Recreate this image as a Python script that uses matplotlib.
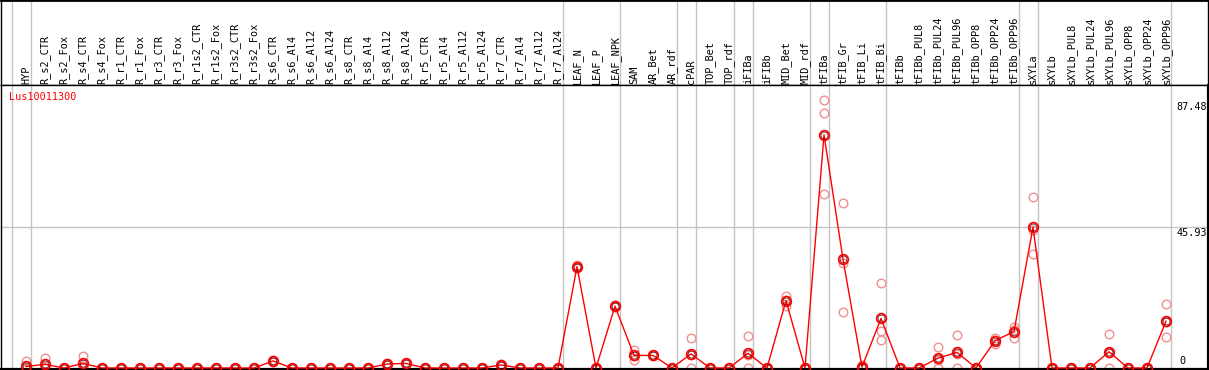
import matplotlib
matplotlib.use('Agg')
import matplotlib.pyplot as plt
import matplotlib.transforms as mtransforms
import numpy as np

categories = [
    "HYP", "R_s2_CTR", "R_s2_Fox", "R_s4_CTR", "R_s4_Fox", "R_r1_CTR", "R_r1_Fox",
    "R_r3_CTR", "R_r3_Fox", "R_r1s2_CTR", "R_r1s2_Fox", "R_r3s2_CTR", "R_r3s2_Fox",
    "R_s6_CTR", "R_s6_Al4", "R_s6_Al12", "R_s6_Al24", "R_s8_CTR", "R_s8_Al4",
    "R_s8_Al12", "R_s8_Al24", "R_r5_CTR", "R_r5_Al4", "R_r5_Al12", "R_r5_Al24",
    "R_r7_CTR", "R_r7_Al4", "R_r7_Al12", "R_r7_Al24", "LEAF_N", "LEAF_P", "LEAF_NPK",
    "SAM", "AR_Bet", "AR_rdf", "cPAR", "TOP_Bet", "TOP_rdf", "iFIBa", "iFIBb",
    "MID_Bet", "MID_rdf", "tFIBa", "tFIB_Gr", "tFIB_Li", "tFIB_Bi", "tFIBb",
    "tFIBb_PUL8", "tFIBb_PUL24", "tFIBb_PUL96", "tFIBb_OPP8", "tFIBb_OPP24",
    "tFIBb_OPP96", "sXYLa", "sXYLb", "sXYLb_PUL8", "sXYLb_PUL24", "sXYLb_PUL96",
    "sXYLb_OPP8", "sXYLb_OPP24", "sXYLb_OPP96",
]

means = [
    0.5, 1.2, 0, 1.5, 0, 0, 0, 0, 0, 0, 0, 0, 0,
    2.3, 0, 0, 0, 0, 0, 1.3, 1.5, 0, 0, 0, 0, 1.0, 0, 0, 0,
    33.1, 0, 20.2, 4.1, 4.1, 0, 4.6, 0, 0, 4.8, 0, 22.0, 0,
    76.1, 35.5, 0.3, 16.2, 0, 0, 3.2, 5.1, 0, 8.9, 11.9,
    46.0, 0, 0, 0, 5.3, 0, 0, 15.3,
]

rep_high = [
    2.3, 3.4, 0, 3.9, 0, 0, 0, 0, 0, 0, 0, 0, 0,
    2.5, 0, 0, 0, 0, 0, 1.5, 1.7, 0, 0, 0, 0, 1.2, 0, 0, 0,
    33.5, 0, 20.6, 5.9, 4.3, 0, 9.7, 0, 0, 10.3, 0, 23.6, 0,
    87.48, 53.9, 0.9, 27.6, 0, 0, 7.0, 10.7, 0, 9.7, 13.5,
    55.8, 0, 0, 0, 11.1, 0, 0, 20.8,
]

rep_mid = [
    0, 0.3, 0, 0.5, 0, 0, 0, 0, 0, 0, 0, 0, 0,
    2.3, 0, 0, 0, 0, 0, 1.3, 1.5, 0, 0, 0, 0, 1.0, 0, 0, 0,
    33.1, 0, 20.2, 3.8, 4.1, 0, 4.1, 0, 0, 4.1, 0, 22.2, 0,
    83.1, 34.4, 0.3, 12.2, 0, 0, 2.6, 4.6, 0, 9.2, 12.5,
    45.0, 0, 0, 0, 4.8, 0, 0, 15.1,
]

rep_low = [
    0, 0, 0, 0, 0, 0, 0, 0, 0, 0, 0, 0, 0,
    2.1, 0, 0, 0, 0, 0, 1.1, 1.3, 0, 0, 0, 0, 0.8, 0, 0, 0,
    32.7, 0, 19.8, 2.6, 3.9, 0, 0, 0, 0, 0, 0, 20.2, 0,
    56.8, 18.2, 0, 9.1, 0, 0, 0, 0, 0, 7.8, 9.7,
    37.2, 0, 0, 0, 0, 0, 0, 10.0,
]

group_after = [-1, 0, 28, 31, 34, 35, 37, 38, 41, 42, 45, 52, 53, 60]
y_marks = [87.48, 45.93, 0]
gene = "Lus10011300"

W, H = 1209, 370
fig = plt.figure(figsize=(W / 100, H / 100), dpi=100)

x = np.arange(len(categories))
xlim = ((1 - 26) / 19, (1208 - 26) / 19)
scale = 268 / 87.48  # px per unit
ylim = (-1 / scale, 283 / scale)

ax_top = fig.add_axes([1 / W, 1 - 85 / H, 1207 / W, 85 / H])
ax = fig.add_axes([1 / W, 1 - 369 / H, 1207 / W, 284 / H])

mono = "DejaVu Sans Mono"
grey = "#c4c4c4"

# Top label panel
ax_top.set_xlim(*xlim)
ax_top.set_ylim(85, 0)
ax_top.set_xticks([])
ax_top.set_yticks([])
for s in ax_top.spines.values():
    s.set_color("black")
    s.set_linewidth(1.0)
ax_top.spines["top"].set_linewidth(2.0)
for g in group_after:
    ax_top.axvline(g + 0.24, color=grey, lw=1.0, zorder=0)
for i, c in enumerate(categories):
    ax_top.text(i, 83.5, c, rotation=90, ha="center", va="bottom",
                family=mono, fontsize=7.4, color="black")

# Data panel
ax.set_xlim(*xlim)
ax.set_ylim(*ylim)
ax.set_xticks([])
ax.set_yticks([])
for s in ax.spines.values():
    s.set_color("black")
    s.set_linewidth(1.0)
ax.spines["bottom"].set_linewidth(1.6)
ax.spines["right"].set_linewidth(1.6)
for g in group_after:
    ax.axvline(g + 0.24, color=grey, lw=1.0, zorder=0)
ax.axhline(y_marks[1], color=grey, lw=1.0, zorder=0)

light = "#ee9090"
for reps in (rep_high, rep_mid, rep_low):
    ax.plot(x, reps, linestyle="none", marker="o", ms=6.2, mfc="none",
            mec=light, mew=1.0, zorder=2, clip_on=False)

ax.plot(x, means, color="#ff0000", lw=1.0, zorder=3, clip_on=False)
ax.plot(x, means, linestyle="none", marker="o", ms=7.0, mfc="none",
        mec="#ff0000", mew=1.2, zorder=4, clip_on=False)
ax.plot(x, means, linestyle="none", marker="o", ms=5.0, mfc="none",
        mec="#5a0000", mew=0.5, zorder=5, clip_on=False)

tr = mtransforms.blended_transform_factory(ax.transAxes, ax.transData)
ax.text(1206 / 1207, y_marks[0] - 0.5, "87.48", transform=tr, ha="right", va="top",
        family=mono, fontsize=7.3, color="black")
ax.text(1206 / 1207, y_marks[1] - 0.3, "45.93", transform=tr, ha="right", va="top",
        family=mono, fontsize=7.3, color="black")
ax.text(1178 / 1207, y_marks[2] + 0.6, "0", transform=tr, ha="left", va="bottom",
        family=mono, fontsize=7.3, color="black")

ax.text(8 / 1207, (368 - 97) / scale, gene, transform=tr, ha="left", va="center",
        family=mono, fontsize=7.3, color="#ff0000")

fig.savefig("out.png", dpi=100)
